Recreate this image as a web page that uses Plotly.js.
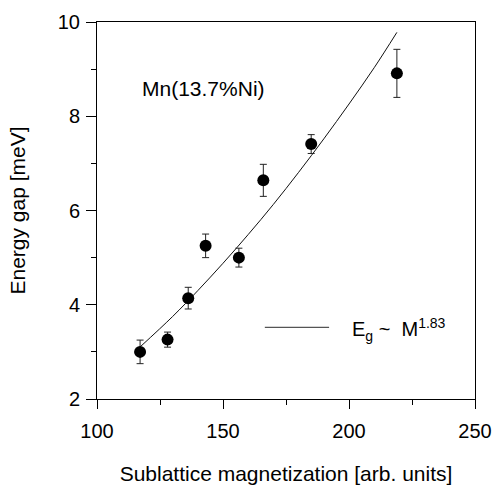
<!DOCTYPE html>
<html>
<head>
<meta charset="utf-8">
<script src="https://cdn.plot.ly/plotly-3.0.1.min.js"></script>
<style>html,body{margin:0;padding:0;background:#fff;}#chart{width:496px;height:485px;}</style>
</head>
<body>
<div id="chart"></div>
<script>
// Measured data: sublattice magnetization vs energy gap
var magnetization = [117.1, 128.0, 136.2, 143.1, 156.3, 166.0, 185.0, 219.0];
var energyGap     = [3.00, 3.26, 4.14, 5.25, 5.00, 6.64, 7.41, 8.91];
var gapError      = [0.25, 0.16, 0.23, 0.25, 0.20, 0.34, 0.20, 0.51];

// Fit curve E_g ~ M^1.83
var fitM = [117, 130, 140, 150, 160, 170, 180, 190, 200, 210, 219];
var fitE = [3.10, 3.75, 4.30, 4.88, 5.49, 6.13, 6.81, 7.52, 8.26, 9.03, 9.78];

var xTicks = [100, 150, 200, 250];
var yTicks = [2, 4, 6, 8, 10];

var font = 'Liberation Sans, Arial, sans-serif';

var traces = [
  {
    x: fitM, y: fitE, type: 'scatter', mode: 'lines',
    line: {color: '#111', width: 1, shape: 'spline'},
    hoverinfo: 'skip', showlegend: false
  },
  {
    x: magnetization, y: energyGap, type: 'scatter', mode: 'markers',
    marker: {color: '#000', size: 12, symbol: 'circle'},
    error_y: {type: 'data', array: gapError, visible: true, color: '#222', thickness: 1, width: 3.5},
    showlegend: false
  }
];

var layout = {
  width: 496, height: 485,
  margin: {l: 97, r: 21, t: 22, b: 85.5},
  paper_bgcolor: '#fff', plot_bgcolor: '#fff',
  font: {family: font, color: '#000', size: 20},
  showlegend: false,
  xaxis: {
    range: [100, 250], tickvals: xTicks, ticktext: xTicks.map(String),
    ticks: 'outside', ticklen: 9, tickwidth: 1, tickcolor: '#000',
    minor: {dtick: 25, tick0: 100, ticks: 'outside', ticklen: 5, tickwidth: 1, tickcolor: '#000'},
    showline: true, linecolor: '#000', linewidth: 1, mirror: true,
    showgrid: false, zeroline: false,
    tickfont: {size: 20}, ticklabelstandoff: 5,
    title: {text: 'Sublattice magnetization [arb. units]', font: {size: 21}, standoff: 30},
    automargin: false
  },
  yaxis: {
    range: [2, 10], tickvals: yTicks, ticktext: yTicks.map(String),
    ticks: 'outside', ticklen: 10, tickwidth: 1, tickcolor: '#000',
    minor: {dtick: 1, tick0: 2, ticks: 'outside', ticklen: 5, tickwidth: 1, tickcolor: '#000'},
    showline: true, linecolor: '#000', linewidth: 1, mirror: true,
    showgrid: false, zeroline: false,
    tickfont: {size: 20}, ticklabelstandoff: 2,
    title: {text: 'Energy gap [meV]', font: {size: 21}, standoff: 26},
    automargin: false
  },
  shapes: [
    {type: 'line', xref: 'paper', yref: 'paper', x0: 0.444, x1: 0.614, y0: 0.19, y1: 0.19,
     line: {color: '#555', width: 1.2}}
  ],
  annotations: [
    {text: 'Mn(13.7%Ni)', xref: 'paper', yref: 'paper', x: 0.1138, y: 0.8245,
     xanchor: 'left', yanchor: 'middle', showarrow: false, font: {size: 21}},
    {text: 'E<sub>g</sub> ~  M<sup>1.83</sup>', xref: 'paper', yref: 'paper', x: 0.670, y: 0.185,
     xanchor: 'left', yanchor: 'middle', showarrow: false, font: {size: 20}}
  ]
};

Plotly.newPlot('chart', traces, layout, {staticPlot: true, displayModeBar: false});
</script>
</body>
</html>
